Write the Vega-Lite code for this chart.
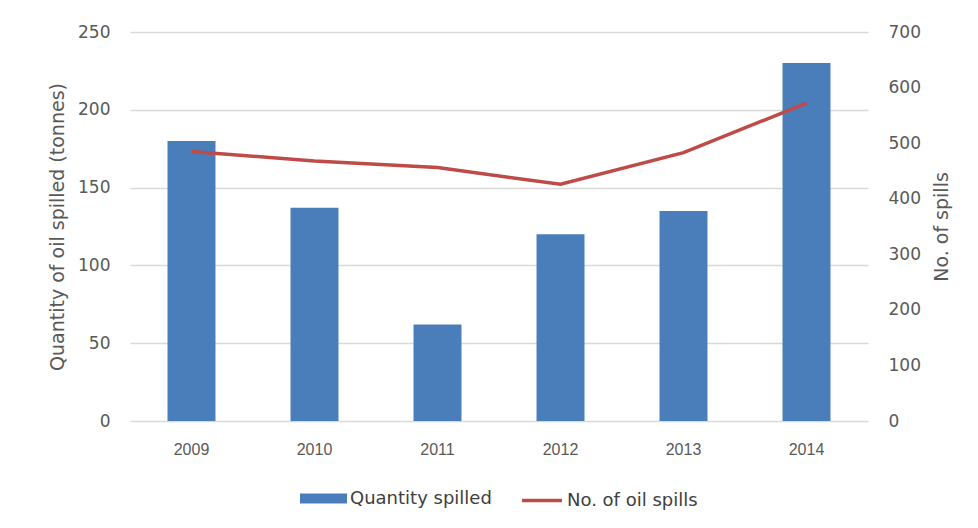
{
  "$schema": "https://vega.github.io/schema/vega-lite/v6.json",
  "width": 738,
  "height": 389,
  "autosize": {"type": "none"},
  "padding": {"left": 130, "top": 32, "right": 110, "bottom": 107},
  "background": "white",
  "config": {
    "view": {"stroke": null},
    "axis": {"labelColor": "#595959", "titleColor": "#595959", "titleFontWeight": "normal", "domain": false, "ticks": false}
  },
  "data": {
    "values": [
      {"year": "2009", "quantity": 180, "spills": 485},
      {"year": "2010", "quantity": 137, "spills": 468},
      {"year": "2011", "quantity": 62, "spills": 456},
      {"year": "2012", "quantity": 120, "spills": 426},
      {"year": "2013", "quantity": 135, "spills": 483},
      {"year": "2014", "quantity": 230, "spills": 572}
    ]
  },
  "encoding": {
    "x": {
      "field": "year",
      "type": "ordinal",
      "scale": {"paddingInner": 0.61, "paddingOuter": 0.305},
      "axis": {"title": null, "labelAngle": 0, "labelFont": "Liberation Sans", "labelFontSize": 16, "labelPadding": 20, "grid": false}
    }
  },
  "layer": [
    {
      "mark": {"type": "bar"},
      "encoding": {
        "y": {
          "field": "quantity",
          "type": "quantitative",
          "scale": {"domain": [0, 250], "nice": false},
          "axis": {
            "title": "Quantity of oil spilled (tonnes)",
            "titleFont": "DejaVu Sans",
            "titleFontSize": 19,
            "titlePadding": 10,
            "values": [0, 50, 100, 150, 200, 250],
            "labelFont": "DejaVu Sans",
            "labelFontSize": 17,
            "labelPadding": 20,
            "grid": true,
            "gridColor": "#d9d9d9",
            "gridWidth": 1.5
          }
        },
        "fill": {
          "datum": "Quantity spilled",
          "scale": {"range": ["#4a7ebb"]},
          "legend": {
            "orient": "none",
            "legendX": 170,
            "legendY": 443,
            "title": null,
            "padding": 0,
            "symbolType": "M-1,-0.21H1V0.21H-1Z",
            "symbolSize": 2209,
            "symbolStrokeWidth": 0,
            "labelFont": "DejaVu Sans",
            "labelFontSize": 18,
            "labelColor": "#404040",
            "labelOffset": 3
          }
        }
      }
    },
    {
      "mark": {"type": "line", "strokeWidth": 3.5},
      "encoding": {
        "y": {
          "field": "spills",
          "type": "quantitative",
          "scale": {"domain": [0, 700], "nice": false},
          "axis": {
            "orient": "right",
            "title": "No. of spills",
            "titleFont": "DejaVu Sans",
            "titleFontSize": 19,
            "titlePadding": 12,
            "titleAngle": 270,
            "titleBaseline": "top",
            "values": [0, 100, 200, 300, 400, 500, 600, 700],
            "labelFont": "DejaVu Sans",
            "labelFontSize": 17,
            "labelPadding": 20,
            "grid": false
          }
        },
        "stroke": {
          "datum": "No. of oil spills",
          "scale": {"range": ["#be4b48"]},
          "legend": {
            "orient": "none",
            "legendX": 390,
            "legendY": 446.5,
            "title": null,
            "padding": 0,
            "symbolType": "stroke",
            "symbolSize": 1600,
            "symbolStrokeWidth": 3.5,
            "labelFont": "DejaVu Sans",
            "labelFontSize": 18,
            "labelColor": "#404040",
            "labelOffset": 3
          }
        }
      }
    }
  ],
  "resolve": {"scale": {"y": "independent"}}
}
